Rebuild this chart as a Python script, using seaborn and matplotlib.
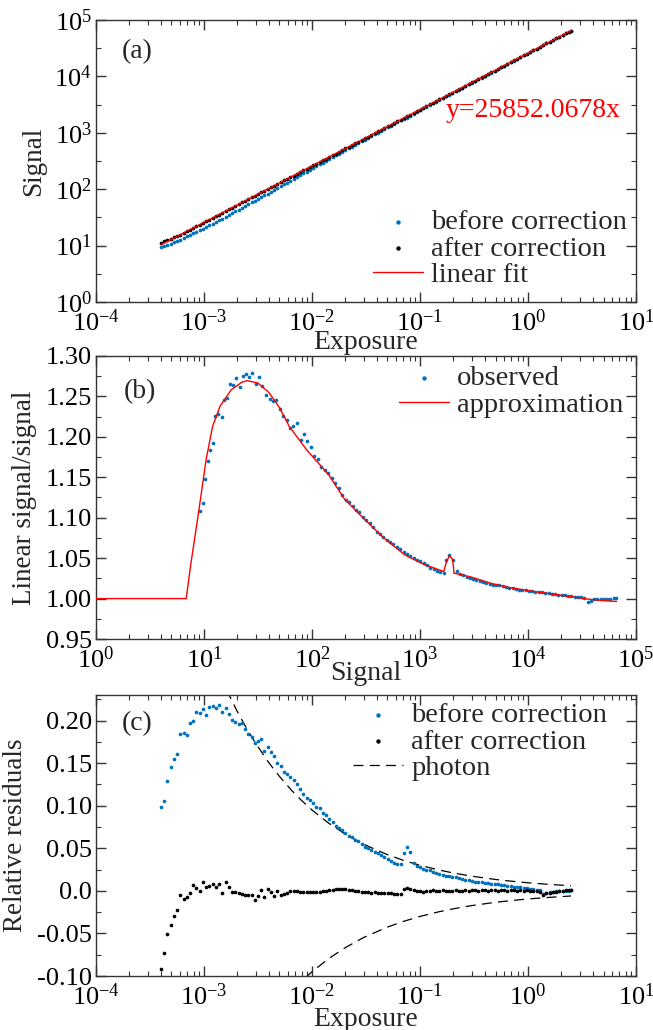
import numpy as np
import pandas as pd
import matplotlib
matplotlib.use("Agg")
import matplotlib.pyplot as plt
import seaborn as sns
from matplotlib.ticker import LogLocator, FixedLocator, FixedFormatter, MultipleLocator, NullFormatter

# ---------------- data ----------------
FIT_SLOPE = 25852.0678

exposure = [
    3.98e-4, 4.27e-4, 4.57e-4, 4.90e-4, 5.25e-4, 5.62e-4, 6.03e-4, 6.46e-4, 6.92e-4, 7.41e-4,
    7.94e-4, 8.51e-4, 9.12e-4, 9.77e-4, 1.047e-3, 1.122e-3, 1.202e-3, 1.288e-3, 1.380e-3, 1.479e-3,
    1.585e-3, 1.698e-3, 1.820e-3, 1.950e-3, 2.089e-3, 2.239e-3, 2.399e-3, 2.570e-3, 2.754e-3, 2.951e-3,
    3.162e-3, 3.388e-3, 3.631e-3, 3.890e-3, 4.169e-3, 4.467e-3, 4.786e-3, 5.129e-3, 5.495e-3, 5.888e-3,
    6.310e-3, 6.761e-3, 7.244e-3, 7.762e-3, 8.318e-3, 8.913e-3, 9.550e-3, 1.023e-2, 1.096e-2, 1.175e-2,
    1.259e-2, 1.349e-2, 1.445e-2, 1.549e-2, 1.660e-2, 1.778e-2, 1.905e-2, 2.042e-2, 2.188e-2, 2.344e-2,
    2.512e-2, 2.692e-2, 2.884e-2, 3.090e-2, 3.311e-2, 3.548e-2, 3.802e-2, 4.074e-2, 4.365e-2, 4.677e-2,
    5.012e-2, 5.370e-2, 5.754e-2, 6.166e-2, 6.607e-2, 7.079e-2, 7.586e-2, 8.128e-2, 8.710e-2, 9.333e-2,
    0.1000, 0.1072, 0.1148, 0.1230, 0.1318, 0.1413, 0.1514, 0.1622, 0.1738, 0.1862,
    0.1995, 0.2138, 0.2291, 0.2455, 0.2630, 0.2818, 0.3020, 0.3236, 0.3467, 0.3715,
    0.3981, 0.4266, 0.4571, 0.4898, 0.5248, 0.5623, 0.6026, 0.6457, 0.6918, 0.7413,
    0.7943, 0.8511, 0.9120, 0.9772, 1.047, 1.122, 1.202, 1.288, 1.380, 1.479,
    1.585, 1.698, 1.820, 1.950, 2.089, 2.239, 2.399, 2.512,
]

resid_before = [
    0.098, 0.106, 0.129, 0.145, 0.155, 0.161, 0.184, 0.186, 0.183, 0.197,
    0.199, 0.210, 0.209, 0.214, 0.207, 0.216, 0.217, 0.215, 0.218, 0.210,
    0.215, 0.208, 0.201, 0.198, 0.196, 0.197, 0.190, 0.184, 0.181, 0.174,
    0.176, 0.178, 0.164, 0.169, 0.163, 0.158, 0.150, 0.147, 0.140, 0.137,
    0.134, 0.130, 0.125, 0.120, 0.114, 0.109, 0.107, 0.103, 0.099, 0.097,
    0.092, 0.089, 0.085, 0.081, 0.076, 0.074, 0.071, 0.068, 0.065, 0.063,
    0.060, 0.058, 0.055, 0.052, 0.050, 0.048, 0.046, 0.044, 0.042, 0.040,
    0.037, 0.035, 0.033, 0.032, 0.031, 0.045, 0.051, 0.046, 0.033, 0.029,
    0.028, 0.026, 0.025, 0.024, 0.022, 0.021, 0.020, 0.019, 0.018, 0.017,
    0.0165, 0.016, 0.015, 0.014, 0.013, 0.0125, 0.012, 0.011, 0.0105, 0.010,
    0.0095, 0.009, 0.0085, 0.008, 0.0075, 0.007, 0.0065, 0.006, 0.0055, 0.005,
    0.0045, 0.004, 0.0035, 0.003, 0.0025, 0.002, 0.0015, 0.001, -0.004, -0.003,
    -0.001, -0.0008, -0.0005, -0.0003, 0.0, 0.0, 0.0003, 0.0005,
]

resid_after = [
    -0.092, -0.073, -0.051, -0.040, -0.030, -0.023, -0.005, -0.009, -0.007, -0.002,
    0.007, 0.003, 0.000, 0.010, 0.004, 0.006, 0.008, 0.005, 0.008, -0.002,
    0.010, 0.005, -0.001, -0.001, -0.003, -0.004, -0.005, -0.005, -0.005, -0.011,
    -0.006, 0.001, -0.007, 0.002, -0.001, -0.006, 0.000, -0.005, -0.004, -0.002,
    0.000, 0.000, 0.000, -0.001, -0.001, -0.001, -0.001, -0.001, -0.001, -0.001,
    0.000, 0.000, 0.001, 0.001, 0.002, 0.002, 0.002, 0.002, 0.001, 0.001,
    0.000, 0.000, -0.001, -0.001, -0.001, -0.002, -0.001, -0.002, -0.002, -0.003,
    -0.003, -0.003, -0.004, -0.004, -0.004, 0.002, 0.003, 0.002, 0.001, 0.000,
    0.000, -0.001, 0.000, 0.000, 0.001, 0.000, 0.000, 0.001, 0.000, 0.000,
    0.000, 0.001, 0.000, 0.000, 0.001, 0.000, 0.001, 0.001, 0.000, 0.001,
    0.001, 0.000, 0.001, 0.001, 0.000, 0.001, 0.001, 0.000, 0.001, 0.001,
    0.000, 0.001, 0.000, 0.001, 0.000, 0.000, 0.000, -0.001, -0.005, -0.003,
    -0.002, -0.001, -0.001, 0.000, 0.000, 0.001, 0.001, 0.001,
]

# linear fit (panel a)
fit_exposure = [4.0e-4, 2.512]

# approximation curve (panel b)
approx_signal = [1.0, 6.84, 7.5, 8.93, 10.45, 12.0, 14.1, 17.8, 22.4, 25.1, 31.6, 39.8, 50.1,
                 61.7, 89.1, 142.9, 200, 288, 457, 724, 1100, 1660, 1760, 1880, 1990, 2040,
                 2060, 3000, 4500, 6460, 11700, 21900, 35000, 50000, 66000]
approx_ratio = [1.000, 1.000, 1.040, 1.1076, 1.1715, 1.2127, 1.238, 1.258, 1.2675, 1.2695,
                1.2665, 1.255, 1.236, 1.2127, 1.184, 1.153, 1.123, 1.1015, 1.0755, 1.054,
                1.042, 1.0335, 1.046, 1.053, 1.049, 1.040, 1.0315, 1.0265, 1.019, 1.014,
                1.0085, 1.0035, 0.9995, 0.9975, 0.9964]

# photon-noise envelope (panel c)
photon_up_exposure = [1.62e-3, 2e-3, 2.5e-3, 3e-3, 4e-3, 5e-3, 6.5e-3, 8e-3, 1e-2, 1.4e-2, 2e-2,
                      3e-2, 5e-2, 7e-2, 0.1, 0.15, 0.2, 0.3, 0.5, 0.7, 1.0, 1.5, 2.5]
photon_up = [0.236, 0.2124, 0.190, 0.1735, 0.1502, 0.1344, 0.1178, 0.1062, 0.095, 0.0803, 0.0672,
             0.0548, 0.0425, 0.0359, 0.0300, 0.0245, 0.0212, 0.0173, 0.0134, 0.0114, 0.0095,
             0.0078, 0.0060]
photon_lo_exposure = [8.6e-3, 1e-2, 1.4e-2, 2e-2, 3e-2, 5e-2, 7e-2, 0.1, 0.15, 0.2, 0.3, 0.5,
                      0.7, 1.0, 1.5, 2.5]
photon_lo = [-0.1025, -0.095, -0.0803, -0.0672, -0.0548, -0.0425, -0.0359, -0.0300, -0.0245,
             -0.0212, -0.0173, -0.0134, -0.0114, -0.0095, -0.0078, -0.0060]

resid_ticks = [-0.10, -0.05, 0.0, 0.05, 0.10, 0.15, 0.20]
resid_ticklabels = ["-0.10", "-0.05", "0.0", "0.05", "0.10", "0.15", "0.20"]
ratio_ticks = [0.95, 1.00, 1.05, 1.10, 1.15, 1.20, 1.25, 1.30]
ratio_ticklabels = ["0.95", "1.00", "1.05", "1.10", "1.15", "1.20", "1.25", "1.30"]

# ---------------- tables ----------------
df = pd.DataFrame({"exposure": exposure, "rb": resid_before, "ra": resid_after})
df["sig_before"] = FIT_SLOPE * df["exposure"] * (1 - df["rb"])
df["sig_after"] = FIT_SLOPE * df["exposure"] * (1 - df["ra"])
df["ratio"] = 1.0 / (1 - df["rb"])
fit_df = pd.DataFrame({"exposure": fit_exposure})
fit_df["signal"] = FIT_SLOPE * fit_df["exposure"]
approx_df = pd.DataFrame({"signal": approx_signal, "ratio": approx_ratio})
up_df = pd.DataFrame({"exposure": photon_up_exposure, "r": photon_up})
lo_df = pd.DataFrame({"exposure": photon_lo_exposure, "r": photon_lo})

# ---------------- style ----------------
sns.set_theme(style="ticks")
plt.rcParams["font.family"] = ["Liberation Serif", "DejaVu Serif"]
plt.rcParams["mathtext.fontset"] = "custom"
plt.rcParams["mathtext.rm"] = "Liberation Serif"
plt.rcParams["mathtext.it"] = "Liberation Serif:italic"
plt.rcParams["axes.linewidth"] = 1.0
plt.rcParams["axes.edgecolor"] = "#333333"

BLUE = "#0072BD"
RED = "#FF0000"
TICK_FS = 19
XLAB_FS = 20
YLAB_FS = 19.5
LEG_FS = 20.5

fig = plt.figure(figsize=(6.53, 10.30), dpi=100)
L, W = 0.147, 0.827
ax_a = fig.add_axes([L, 0.7068, W, 0.2738])
ax_b = fig.add_axes([L, 0.3796, W, 0.2748])
ax_c = fig.add_axes([L, 0.0524, W, 0.2728])


def style_axes(ax):
    ax.tick_params(which="both", direction="in", top=True, right=True, labelsize=TICK_FS,
                   colors="#333333", labelcolor="black")
    ax.tick_params(which="major", length=7, width=1.0)
    ax.tick_params(which="minor", length=3.5, width=0.8)
    ax.tick_params(axis="x", which="major", pad=5)
    ax.tick_params(axis="y", which="major", pad=3)
    for s in ax.spines.values():
        s.set_visible(True)


def log_x(ax, lo, hi):
    ax.set_xscale("log")
    ax.set_xlim(lo, hi)
    ax.xaxis.set_major_locator(LogLocator(base=10, numticks=20))
    ax.xaxis.set_minor_locator(LogLocator(base=10, subs=np.arange(2, 10), numticks=20))
    ax.xaxis.set_minor_formatter(NullFormatter())


def legend(ax, loc, anchor):
    ax.legend(loc=loc, bbox_to_anchor=anchor, frameon=False, fontsize=LEG_FS, markerscale=1.2,
              handlelength=1.75, handletextpad=0.3, labelspacing=0.02, borderpad=0.0,
              borderaxespad=0.0)


ms = 7
# ---------- panel (a) ----------
sns.scatterplot(data=df, x="exposure", y="sig_before", ax=ax_a, color=BLUE, s=ms, linewidth=0,
                label="before correction", zorder=3)
sns.scatterplot(data=df, x="exposure", y="sig_after", ax=ax_a, color="black", s=ms, linewidth=0,
                label="after correction", zorder=4)
sns.lineplot(data=fit_df, x="exposure", y="signal", ax=ax_a, color=RED, linewidth=1.0,
             label="linear fit", zorder=5)
log_x(ax_a, 1e-4, 1e1)
ax_a.set_yscale("log")
ax_a.set_ylim(1, 1e5)
ax_a.yaxis.set_major_locator(LogLocator(base=10, numticks=20))
ax_a.yaxis.set_minor_locator(LogLocator(base=10, subs=[10 ** 0.5], numticks=20))
ax_a.yaxis.set_minor_formatter(NullFormatter())
ax_a.set_xlabel("Exposure", fontsize=XLAB_FS, labelpad=-4)
ax_a.set_ylabel("Signal", fontsize=YLAB_FS, labelpad=6)
ax_a.text(0.076, 0.887, "(a)", transform=ax_a.transAxes, fontsize=XLAB_FS, ha="center", va="center")
ax_a.text(0.648, 0.68, "y=25852.0678x", transform=ax_a.transAxes, fontsize=XLAB_FS,
          color=RED, ha="left", va="center")
style_axes(ax_a)
legend(ax_a, "center left", (0.513, 0.188))

# ---------- panel (b) ----------
sns.scatterplot(data=df, x="sig_before", y="ratio", ax=ax_b, color=BLUE, s=ms, linewidth=0,
                label="observed", zorder=3)
sns.lineplot(data=approx_df, x="signal", y="ratio", ax=ax_b, color=RED, linewidth=1.0,
             label="approximation", zorder=4)
log_x(ax_b, 1, 1e5)
ax_b.set_ylim(0.95, 1.30)
ax_b.yaxis.set_major_locator(FixedLocator(ratio_ticks))
ax_b.yaxis.set_major_formatter(FixedFormatter(ratio_ticklabels))
ax_b.yaxis.set_minor_locator(MultipleLocator(0.025))
ax_b.set_xlabel("Signal", fontsize=XLAB_FS, labelpad=-8)
ax_b.set_ylabel("Linear signal/signal", fontsize=YLAB_FS, labelpad=6)
ax_b.text(0.082, 0.873, "(b)", transform=ax_b.transAxes, fontsize=XLAB_FS, ha="center", va="center")
style_axes(ax_b)
legend(ax_b, "center left", (0.561, 0.875))

# ---------- panel (c) ----------
sns.scatterplot(data=df, x="exposure", y="rb", ax=ax_c, color=BLUE, s=ms, linewidth=0,
                label="before correction", zorder=3)
sns.scatterplot(data=df, x="exposure", y="ra", ax=ax_c, color="black", s=ms, linewidth=0,
                label="after correction", zorder=3)
sns.lineplot(data=up_df, x="exposure", y="r", ax=ax_c, color="black", linewidth=0.9,
             linestyle=(0, (8, 5)), label="photon", zorder=2)
sns.lineplot(data=lo_df, x="exposure", y="r", ax=ax_c, color="black", linewidth=0.9,
             linestyle=(0, (8, 5)), zorder=2)
log_x(ax_c, 1e-4, 1e1)
ax_c.set_ylim(-0.10, 0.23)
ax_c.yaxis.set_major_locator(FixedLocator(resid_ticks))
ax_c.yaxis.set_major_formatter(FixedFormatter(resid_ticklabels))
ax_c.yaxis.set_minor_locator(MultipleLocator(0.025))
ax_c.set_xlabel("Exposure", fontsize=XLAB_FS, labelpad=-2)
ax_c.set_ylabel("Relative residuals", fontsize=YLAB_FS, labelpad=6)
ax_c.text(0.076, 0.90, "(c)", transform=ax_c.transAxes, fontsize=XLAB_FS, ha="center", va="center")
style_axes(ax_c)
legend(ax_c, "center left", (0.476, 0.833))

fig.savefig("out.png", dpi=100)
